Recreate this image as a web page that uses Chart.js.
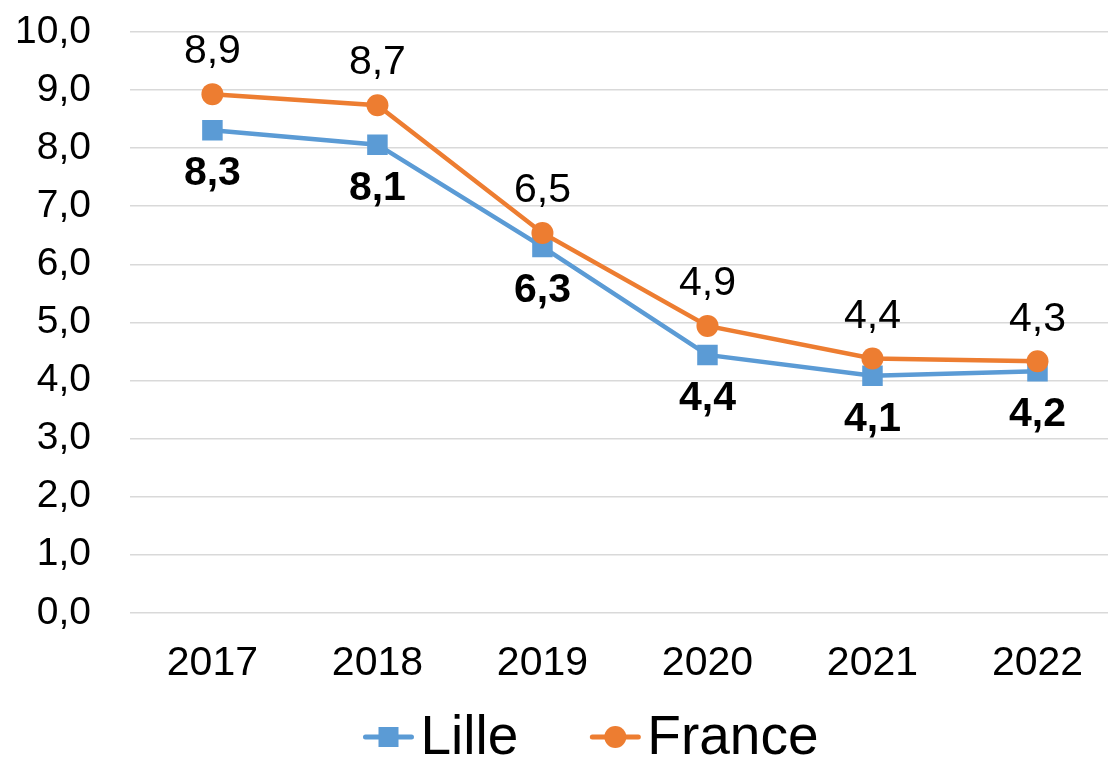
<!DOCTYPE html>
<html lang="fr">
<head>
<meta charset="utf-8">
<script src="https://cdn.jsdelivr.net/npm/chart.js@4.4.1/dist/chart.umd.min.js"></script>
<style>
  html, body { margin: 0; padding: 0; background: #fff; overflow: hidden; }
  canvas { display: block; }
</style>
</head>
<body>
<canvas id="graphique" width="1120" height="760"></canvas>
<script>
const annees = ["2017", "2018", "2019", "2020", "2021", "2022"];
const lille = [8.31, 8.06, 6.30, 4.44, 4.08, 4.16];
const france = [8.93, 8.74, 6.54, 4.94, 4.38, 4.33];
const yMin = 0, yMax = 10, yPas = 1;

const bleu = "#5B9BD5";
const orange = "#ED7D31";
const police = "'Liberation Sans', Arial, sans-serif";

const virgule = v => v.toFixed(1).replace(".", ",");

// étiquettes de données : France au-dessus, Lille en dessous (gras)
const etiquettes = {
    id: "etiquettes",
    afterDatasetsDraw(chart) {
        const ctx = chart.ctx;
        ctx.save();
        ctx.fillStyle = "#000";
        ctx.textAlign = "center";
        ctx.textBaseline = "middle";
        chart.data.datasets.forEach((ds, i) => {
            const meta = chart.getDatasetMeta(i);
            const dessus = ds.label === "France";
            ctx.font = (dessus ? "" : "bold ") + "41px " + police;
            meta.data.forEach((pt, j) => {
                ctx.fillText(virgule(ds.data[j]), pt.x, pt.y + (dessus ? -42 : 44));
            });
        });
        ctx.restore();
    }
};

// légende en bas : trait + marqueur puis le nom
const legendeBas = {
    id: "legendeBas",
    afterDraw(chart) {
        const ctx = chart.ctx;
        const y = 737;
        ctx.save();
        ctx.font = "55px " + police;
        ctx.textBaseline = "middle";
        const items = chart.data.datasets.map(ds => ({ ds, w: ctx.measureText(ds.label).width }));
        const trait = 50, ecart = 7, entre = 72;
        const total = items.reduce((s, it) => s + trait + ecart + it.w, 0) + entre * (items.length - 1);
        let x = 591 - total / 2;
        items.forEach(({ ds, w }) => {
            ctx.strokeStyle = ds.borderColor;
            ctx.lineWidth = 5;
            ctx.lineCap = "round";
            ctx.beginPath();
            ctx.moveTo(x + 2, y);
            ctx.lineTo(x + trait - 2, y);
            ctx.stroke();
            ctx.fillStyle = ds.borderColor;
            if (ds.pointStyle === "rect") {
                ctx.fillRect(x + trait / 2 - 10, y - 10, 20, 20);
            } else {
                ctx.beginPath();
                ctx.arc(x + trait / 2, y, 11, 0, Math.PI * 2);
                ctx.fill();
            }
            ctx.fillStyle = "#000";
            ctx.fillText(ds.label, x + trait + ecart, y + 2);
            x += trait + ecart + w + entre;
        });
        ctx.restore();
    }
};

new Chart(document.getElementById("graphique"), {
    type: "line",
    data: {
        labels: annees,
        datasets: [{
            label: "Lille",
            data: lille,
            borderColor: bleu,
            backgroundColor: bleu,
            borderWidth: 4.5,
            pointStyle: "rect",
            pointRadius: 14.5,
            pointBorderWidth: 0,
            order: 1
        }, {
            label: "France",
            data: france,
            borderColor: orange,
            backgroundColor: orange,
            borderWidth: 4.5,
            pointStyle: "circle",
            pointRadius: 11,
            pointBorderWidth: 0,
            order: 0
        }]
    },
    options: {
        responsive: false,
        animation: false,
        layout: { autoPadding: false, padding: { top: 0, left: -24, right: 0, bottom: 54 } },
        plugins: {
            legend: { display: false },
            tooltip: { enabled: false }
        },
        scales: {
            x: {
                offset: true,
                grid: { display: false },
                border: { display: false },
                ticks: { color: "#000", font: { family: police, size: 41 }, padding: 18 }
            },
            y: {
                min: yMin,
                max: yMax,
                grid: { color: "#d9d9d9", lineWidth: 1.5, drawTicks: false },
                border: { display: false },
                afterFit: scale => { scale.paddingTop = 32; },
                ticks: {
                    stepSize: yPas,
                    color: "#000",
                    font: { family: police, size: 39 },
                    padding: 39,
                    callback: v => virgule(v)
                }
            }
        }
    },
    plugins: [etiquettes, legendeBas]
});
</script>
</body>
</html>
